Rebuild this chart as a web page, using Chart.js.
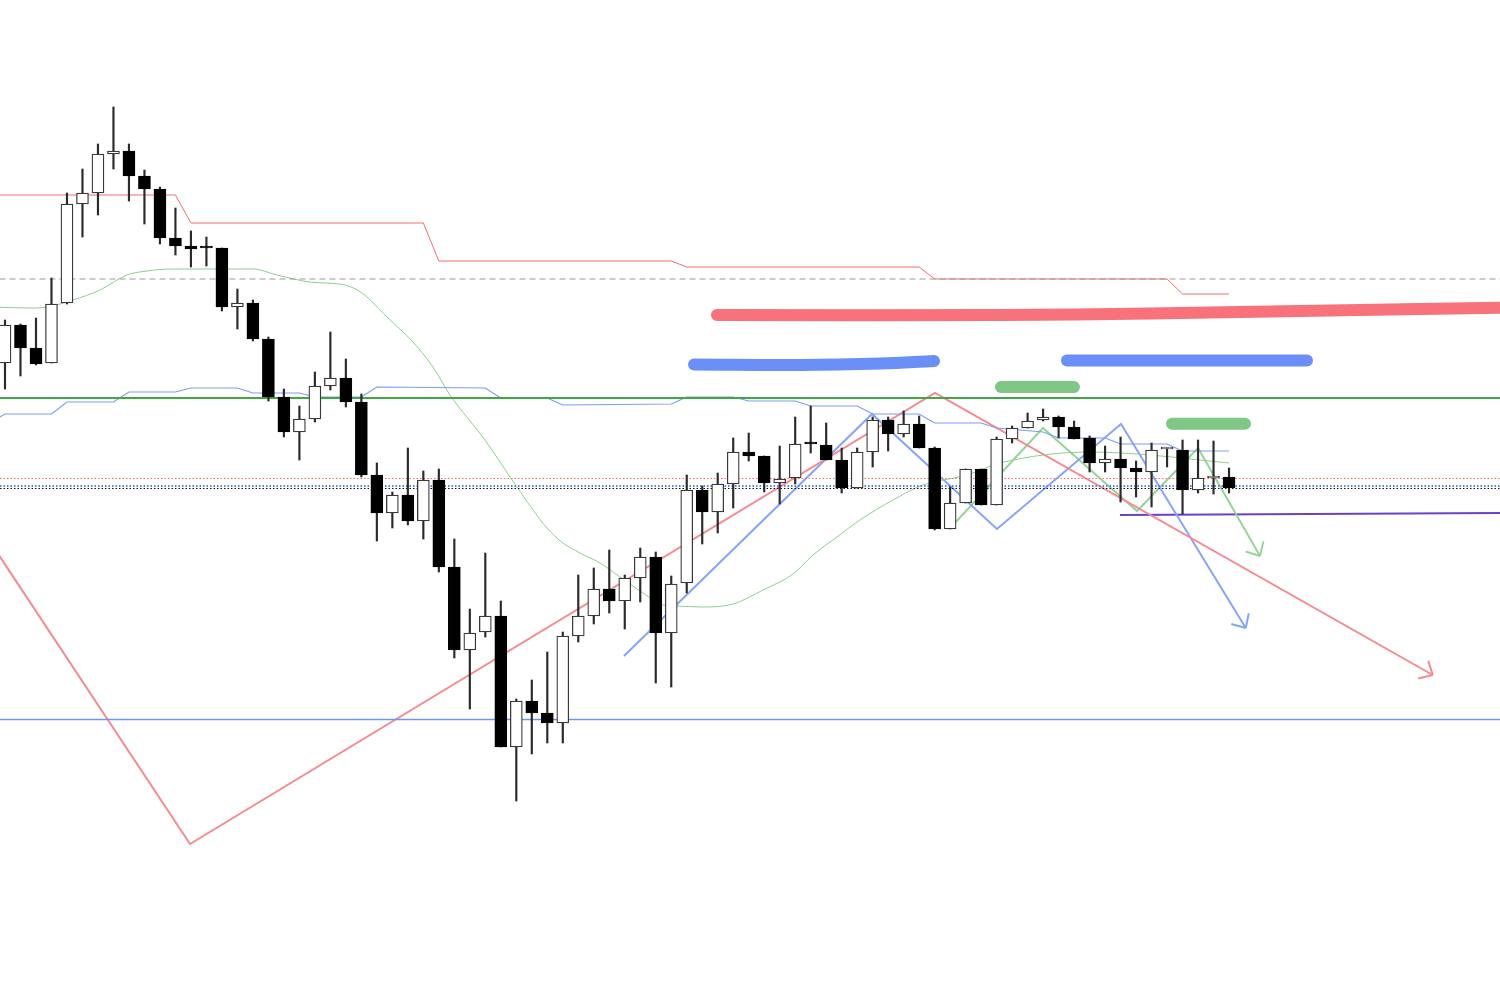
<!DOCTYPE html>
<html>
<head>
<meta charset="utf-8">
<title>Candles</title>
<script src="https://cdn.jsdelivr.net/npm/chart.js@4.4.1/dist/chart.umd.min.js"></script>
<style>
  html, body { margin: 0; padding: 0; background: #ffffff; }
  #wrap { width: 1500px; height: 989px; }
</style>
</head>
<body>
<div id="wrap"><canvas id="chart" width="1500" height="989"></canvas></div>
<script>
// ========== Data (bar index, price) ==========

const openP = [151.37, 151.75, 151.52, 151.37, 151.97, 152.96, 153.07, 153.46, 153.49, 153.24,
  153.11, 152.62, 152.54, 152.53, 152.52, 151.93, 151.97, 151.61, 151.03, 150.68,
  150.81, 151.14, 151.22, 150.98, 150.25, 149.87, 150.05, 149.79, 150.20, 149.33,
  148.50, 148.68, 148.84, 147.53, 147.99, 147.87, 147.77, 148.64, 148.84, 149.11,
  148.99, 149.22, 149.43, 148.67, 149.17, 150.10, 149.88, 150.16, 150.48, 150.44,
  150.17, 150.22, 150.57, 150.55, 150.40, 150.12, 150.48, 150.80, 150.66, 150.76,
  150.52, 149.71, 149.97, 150.31, 149.95, 150.61, 150.72, 150.80, 150.83, 150.73,
  150.62, 150.37, 150.41, 150.32, 150.28, 150.51, 150.50, 150.10, 150.22, 150.23];

const highP = [151.80, 151.76, 151.82, 152.22, 153.07, 153.31, 153.56, 153.93, 153.56, 153.30,
  153.13, 152.92, 152.69, 152.63, 152.52, 152.11, 152.00, 151.63, 151.11, 150.94,
  151.28, 151.68, 151.41, 151.06, 150.37, 150.08, 150.52, 150.29, 150.31, 149.61,
  148.91, 149.47, 148.99, 148.01, 148.20, 148.48, 148.68, 149.25, 149.32, 149.50,
  149.25, 149.52, 149.48, 149.24, 150.25, 150.14, 150.27, 150.62, 150.67, 150.44,
  150.54, 150.83, 150.94, 150.77, 150.52, 150.52, 150.83, 150.83, 150.89, 150.84,
  150.53, 150.13, 150.31, 150.31, 150.63, 150.74, 150.87, 150.91, 150.84, 150.79,
  150.64, 150.54, 150.63, 150.39, 150.57, 150.52, 150.60, 150.60, 150.59, 150.32];

const lowP = [151.11, 151.24, 151.35, 151.37, 151.96, 152.63, 152.85, 153.31, 152.99, 152.76,
  152.56, 152.45, 152.33, 152.34, 151.89, 151.71, 151.59, 150.99, 150.63, 150.40,
  150.78, 151.10, 150.93, 150.23, 149.59, 149.72, 149.75, 149.61, 149.28, 148.42,
  147.91, 148.63, 147.53, 146.99, 147.46, 147.57, 147.57, 148.58, 148.76, 148.87,
  148.71, 148.98, 148.17, 148.13, 149.07, 149.56, 149.67, 149.92, 150.39, 150.08,
  149.96, 150.16, 150.47, 150.40, 150.07, 150.12, 150.33, 150.49, 150.63, 150.52,
  149.70, 149.71, 149.97, 149.95, 149.95, 150.57, 150.72, 150.79, 150.62, 150.61,
  150.28, 150.28, 149.98, 150.03, 149.93, 150.33, 149.86, 150.07, 150.06, 150.07];

const closeP = [151.75, 151.52, 151.36, 151.96, 152.96, 153.07, 153.46, 153.49, 153.24, 153.11,
  152.62, 152.54, 152.51, 152.52, 151.93, 151.97, 151.61, 151.03, 150.68, 150.81,
  151.14, 151.22, 150.98, 150.25, 149.87, 150.05, 149.79, 150.20, 149.33, 148.50,
  148.67, 148.84, 147.53, 147.99, 147.87, 147.77, 148.64, 148.84, 149.11, 148.99,
  149.22, 149.43, 148.67, 149.16, 150.10, 149.88, 150.16, 150.48, 150.44, 150.17,
  150.21, 150.56, 150.56, 150.40, 150.12, 150.48, 150.80, 150.66, 150.76, 150.52,
  149.71, 149.97, 150.31, 149.95, 150.61, 150.72, 150.79, 150.83, 150.73, 150.61,
  150.37, 150.41, 150.32, 150.28, 150.50, 150.52, 150.10, 150.22, 150.23, 150.12];

// higher-timeframe levels, as [bar, price]
const upperStep = [[-1, 153.05], [11, 153.05], [12, 152.77], [27, 152.77], [28, 152.39], [43, 152.39],
  [44, 152.33], [59, 152.33], [60, 152.21], [75, 152.21], [76, 152.06], [79, 152.06]];

const lowerStep = [[-1, 150.77], [0, 150.86], [3, 150.86], [4, 150.98], [7, 150.98], [8, 151.08],
  [11, 151.08], [12, 151.12], [15, 151.12], [16, 151.07], [19, 151.07], [20, 151.03], [23, 151.03],
  [24, 151.13], [31, 151.12], [32, 151.02], [35, 151.02], [36, 150.95], [43, 150.96], [44, 151.03],
  [47, 151.03], [48, 150.99], [51, 150.99], [52, 150.94], [55, 150.94], [56, 150.86], [59, 150.86],
  [60, 150.77], [63, 150.77], [64, 150.72], [67, 150.68], [68, 150.62], [71, 150.62], [72, 150.56],
  [75, 150.56], [76, 150.49], [79, 150.49]];

const maLine = [[-1, 151.93], [1.81, 151.92], [2.71, 151.93], [4.39, 152.00], [6.13, 152.10],
  [7.87, 152.25], [9.16, 152.29], [10.84, 152.31], [12.59, 152.31], [16.01, 152.31], [17.56, 152.25],
  [19.69, 152.18], [21.94, 152.15], [23.04, 152.07], [24.65, 151.83], [26.33, 151.58], [27.62, 151.33],
  [28.72, 151.05], [30.98, 150.60], [33.04, 150.13], [34.98, 149.72], [36.01, 149.57], [37.11, 149.47],
  [38.40, 149.37], [39.69, 149.23], [41.18, 149.07], [42.47, 148.95], [43.37, 148.94], [44.99, 148.93],
  [46.99, 148.96], [48.92, 149.10], [50.86, 149.26], [52.15, 149.45], [53.70, 149.63], [55.18, 149.80],
  [57.31, 150.00], [59.25, 150.15], [62.09, 150.25], [64.22, 150.37], [70.03, 150.48], [73.90, 150.45],
  [77.13, 150.40], [79.00, 150.37]];

// hand drawn waves
const redWave = [[-1, 149.59], [11.94, 146.56], [60.02, 151.07], [92.15, 148.25]];
const blueWave = [[39.95, 148.44], [55.96, 150.86], [64.02, 149.71], [72.03, 150.76], [80.08, 148.72]];
const greenWave = [[61.31, 149.77], [66.99, 150.72], [73.06, 149.89], [77.00, 150.52], [81.00, 149.44]];
const purpleLine = [[71.96, 149.85], [97.0, 149.87]];

// marker strokes
const redZone = [[45.95, 151.85], [64.22, 151.85], [73.90, 151.865], [83.58, 151.89], [97.0, 151.925]];
const blueZoneA = [[44.47, 151.355], [51.3, 151.35], [56.5, 151.365], [59.96, 151.39]];
const blueZoneB = [[68.54, 151.395], [84.03, 151.395]];
const greenZoneA = [[64.28, 151.13], [68.99, 151.13]];
const greenZoneB = [[75.32, 150.763], [80.03, 150.763]];

// horizontal levels
const greenLevel = 151.02;
const blueLevel = 147.805;
const grayLevel = 152.21;
const redDotLevel = 150.215;
const blueDotLevel = 150.14;
const blackDotLevel = 150.115;

// ========== Helpers ==========

function pts(list) {
    return list.map(p => ({ x: p[0], y: p[1] }));
}

function hLine(value) {
    return [{ x: -1, y: value }, { x: 98, y: value }];
}

function lineSet(data, color, width, extra) {
    return Object.assign({
        type: 'line',
        data: data,
        borderColor: color,
        borderWidth: width,
        pointRadius: 0,
        fill: false,
        tension: 0,
        order: 5
    }, extra || {});
}

const isUp = openP.map((o, i) => closeP[i] >= o);

const arrowHeads = {
    id: 'arrowHeads',
    afterDatasetsDraw(chart) {
        const ctx = chart.ctx;
        chart.data.datasets.forEach((ds, i) => {
            if (!ds.arrow) return;
            const els = chart.getDatasetMeta(i).data;
            const a = els[els.length - 2];
            const b = els[els.length - 1];
            const ang = Math.atan2(b.y - a.y, b.x - a.x);
            ctx.save();
            ctx.strokeStyle = ds.borderColor;
            ctx.lineWidth = ds.borderWidth;
            [-1, 1].forEach(s => {
                ctx.beginPath();
                ctx.moveTo(b.x, b.y);
                ctx.lineTo(b.x - 15 * Math.cos(ang + s * 0.75), b.y - 15 * Math.sin(ang + s * 0.75));
                ctx.stroke();
            });
            ctx.restore();
        });
    }
};

// ========== Chart ==========

const datasets = [
    {
        type: 'bar',
        data: openP.map((o, i) => ({ x: i, y: [o, closeP[i]] })),
        backgroundColor: isUp.map(u => u ? '#ffffff' : '#000000'),
        borderColor: isUp.map(u => u ? '#3a3a3a' : '#000000'),
        borderWidth: 1.3,
        borderSkipped: false,
        minBarLength: 2,
        grouped: false,
        barPercentage: 1,
        categoryPercentage: 1,
        maxBarThickness: 12,
        order: 0
    },
    {
        type: 'bar',
        data: lowP.map((l, i) => ({ x: i, y: [l, highP[i]] })),
        backgroundColor: '#2a2a2a',
        borderWidth: 0,
        grouped: false,
        barPercentage: 1,
        categoryPercentage: 1,
        maxBarThickness: 1.5,
        order: 1
    },
    lineSet(hLine(grayLevel), '#9a9a9a', 1, { borderDash: [6, 4] }),
    lineSet(hLine(greenLevel), '#3fa843', 2),
    lineSet(hLine(blueLevel), '#7096f3', 1.6),
    lineSet(hLine(redDotLevel), '#f06f6f', 1, { borderDash: [1.5, 2] }),
    lineSet(hLine(blueDotLevel), '#5a7eee', 1.8, { borderDash: [1.5, 2] }),
    lineSet(hLine(blackDotLevel), '#111111', 1, { borderDash: [1.5, 2] }),
    lineSet(pts(upperStep), '#f26d6d', 1),
    lineSet(pts(lowerStep), '#7d9df6', 1.2),
    lineSet(pts(maLine), '#8ccf8c', 1, { cubicInterpolationMode: 'monotone' }),
    lineSet(pts(redWave), '#f58a91', 2, { arrow: true }),
    lineSet(pts(blueWave), '#86a5f7', 2, { arrow: true }),
    lineSet(pts(greenWave), '#98d49a', 2, { arrow: true }),
    lineSet(pts(purpleLine), '#6c40c2', 2),
    lineSet(pts(redZone), '#f7727b', 12, { borderCapStyle: 'round', tension: 0.4 }),
    lineSet(pts(blueZoneA), '#6a90f8', 12, { borderCapStyle: 'round', tension: 0.4 }),
    lineSet(pts(blueZoneB), '#6a90f8', 12, { borderCapStyle: 'round' }),
    lineSet(pts(greenZoneA), '#80c684', 12, { borderCapStyle: 'round' }),
    lineSet(pts(greenZoneB), '#80c684', 12, { borderCapStyle: 'round' })
];

new Chart(document.getElementById('chart').getContext('2d'), {
    type: 'bar',
    data: { datasets: datasets },
    options: {
        responsive: false,
        animation: false,
        events: [],
        layout: { padding: 0 },
        plugins: {
            legend: { display: false },
            tooltip: { enabled: false }
        },
        scales: {
            x: { type: 'linear', min: -0.3227, max: 96.489, offset: false, display: false },
            y: { type: 'linear', min: 145.11, max: 155, display: false }
        }
    },
    plugins: [arrowHeads]
});
</script>
</body>
</html>
